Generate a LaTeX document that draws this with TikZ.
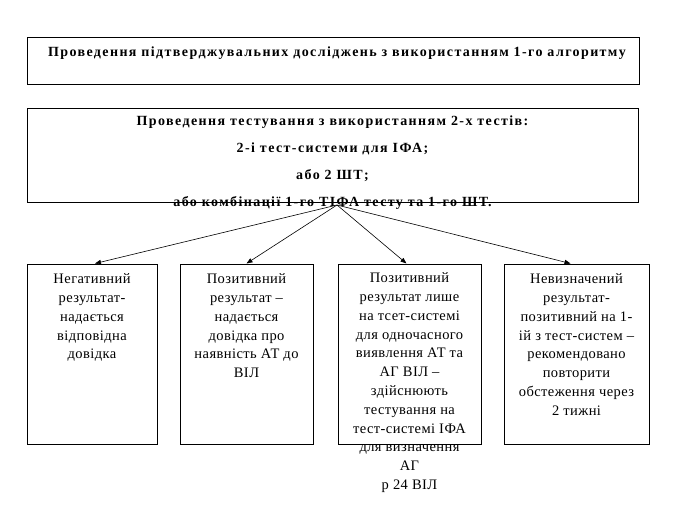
\documentclass[tikz,border=0pt]{standalone}
\usepackage{fontspec}
\setmainfont{Liberation Serif}
\newfontfamily\headfont{Liberation Serif}[LetterSpace=10]
\newfontfamily\bodyfont{Liberation Serif}[LetterSpace=3]
\usepackage{tikz}
\usetikzlibrary{arrows.meta, positioning}

\begin{document}
\begin{tikzpicture}[x=1pt, y=-1pt,
    box/.style={draw, line width=1pt, inner sep=0pt},
    head/.style={font=\headfont\bfseries\fontsize{14}{26.7}\selectfont, align=center, inner sep=0pt},
    txt/.style={font=\bodyfont\fontsize{14.5}{18.8}\selectfont, align=center, inner sep=0pt, anchor=north},
    arr/.style={-{Triangle[length=6pt,width=4.5pt]}, line width=0.6pt}
  ]
  \useasboundingbox (0,0) rectangle (675,517);
  % Top boxes
  \node[box, minimum width=612pt, minimum height=47pt] (first) at (333,60.5) {};
  \node[head, anchor=base] (firsttext) at (337,56)
    {Проведення підтверджувальних досліджень з використанням 1-го алгоритму};
  \node[box, minimum width=611pt, minimum height=94pt] (second) at (332.5,155) {};
  \node[head, anchor=north] (secondtext) at (332.5,116)
    {Проведення тестування з використанням 2-х тестів:\\
     2-і тест-системи для ІФА;\\
     або 2 ШТ;\\
     або комбінації 1-го ТІФА тесту та 1-го ШТ.};
  % Result boxes
  \node[box, minimum width=130pt, minimum height=180pt] (neg) at (92,354) {};
  \node[box, minimum width=133pt, minimum height=180pt] (pos) at (246.5,354) {};
  \node[box, minimum width=143pt, minimum height=180pt] (posag) at (409.5,354) {};
  \node[box, minimum width=145pt, minimum height=180pt] (undef) at (576.5,354) {};
  \node[txt] (negtext) at ([yshift=-10pt]neg.north)
    {Негативний\\результат-\\надається\\відповідна\\довідка};
  \node[txt] (postext) at ([yshift=-10pt]pos.north)
    {Позитивний\\результат –\\надається\\довідка про\\наявність АТ до\\ВІЛ};
  \node[txt] (posagtext) at ([yshift=-9pt]posag.north)
    {Позитивний\\результат лише\\на тсет-системі\\для одночасного\\виявлення АТ та\\АГ ВІЛ –\\здійснюють\\тестування на\\тест-системі ІФА\\для визначення\\АГ\\р 24 ВІЛ};
  \node[txt] (undeftext) at ([yshift=-10pt]undef.north)
    {Невизначений\\результат-\\позитивний на 1-\\ій з тест-систем –\\рекомендовано\\повторити\\обстеження через\\2 тижні};
  % Arrows
  \coordinate (hub) at (337,205);
  \draw[arr] (hub) -- ([xshift=3pt]neg.north);
  \draw[arr] (hub) -- (pos.north);
  \draw[arr] (hub) -- ([xshift=-3pt]posag.north);
  \draw[arr] (hub) -- ([xshift=-6pt]undef.north);
\end{tikzpicture}
\end{document}
